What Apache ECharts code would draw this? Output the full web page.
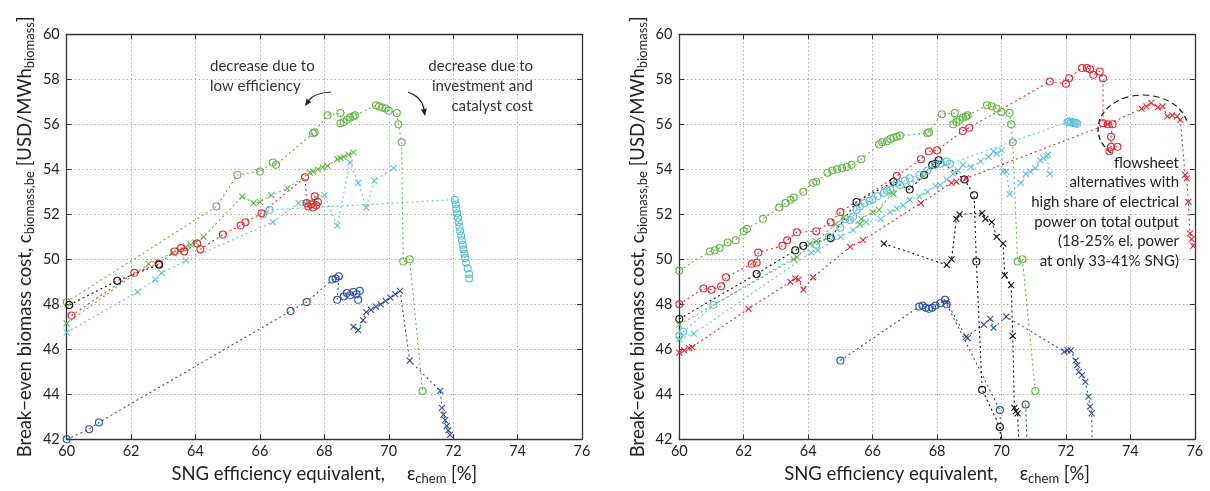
<!DOCTYPE html>
<html>
<head>
<meta charset="utf-8">
<script src="https://cdn.jsdelivr.net/npm/echarts@6/dist/echarts.min.js"></script>
<style>
  * { margin: 0; padding: 0; }
  body { background: #fff; }
  #main { width: 1210px; height: 491px; }
</style>
</head>
<body>
<div id="main"></div>
<script>
// axis ranges / ticks
var xMin = 60, xMax = 76, xStep = 2;
var yMin = 42, yMax = 60, yStep = 2;

// ---- left panel ----
var leftBlackO = [[60.08,47.97],[61.57,49.05],[62.87,49.76]];
var leftRedO = [[60.15,47.5],[62.1,49.4],[62.85,49.8],[63.35,50.35],[63.55,50.5],[63.65,50.35],[64.05,50.7],[64.15,50.45],[64.85,51.1],[65.4,51.5],[65.55,51.65],[66.05,52.05],[67.4,53.65],[67.45,52.5],[67.5,52.35],[67.6,52.45],[67.7,52.8],[67.75,52.4],[67.8,52.55],[67.65,52.3]];
var leftGreenO = [[60.0,48.1],[64.65,52.35],[65.3,53.75],[66.0,53.9],[66.4,54.3],[66.5,54.2],[67.65,55.6],[67.7,55.65],[68.1,56.4],[68.5,56.5],[68.5,56.05],[68.6,56.1],[68.7,56.2],[68.8,56.3],[68.9,56.35],[68.95,56.4],[69.6,56.85],[69.7,56.8],[69.8,56.75],[69.9,56.7],[70.0,56.6],[70.25,56.5],[70.3,56.0],[70.4,55.2],[70.45,49.9],[70.65,50.0],[71.05,44.15]];
var leftGreenX = [[60.0,47.15],[62.55,49.8],[63.3,50.3],[63.5,50.4],[63.7,50.55],[63.85,50.65],[64.0,50.75],[64.25,51.0],[65.45,52.8],[65.8,52.5],[66.0,52.55],[66.35,52.85],[66.85,53.15],[67.55,53.85],[67.65,53.9],[67.8,54.0],[67.95,54.1],[68.1,54.15],[68.4,54.45],[68.5,54.5],[68.6,54.55],[68.75,54.65],[68.9,54.75]];
var leftCyanX = [[60.0,46.75],[62.2,48.55],[62.75,49.1],[62.95,49.4],[63.7,49.95],[66.4,51.65],[67.2,52.5],[67.4,52.5],[67.75,52.75],[68.0,52.85],[68.4,51.5],[68.8,54.3],[69.05,53.4],[69.3,52.3],[69.55,53.5],[70.15,54.05]];
var leftCyanO = [[66.1,52.0],[66.3,52.2],[72.05,52.65],[72.08,52.45],[72.1,52.25],[72.12,52.05],[72.15,51.85],[72.17,51.65],[72.2,51.45],[72.22,51.25],[72.25,51.05],[72.27,50.85],[72.3,50.65],[72.32,50.45],[72.35,50.25],[72.37,50.05],[72.4,49.85],[72.45,49.6],[72.5,49.35],[72.5,49.15]];
var leftBlueO = [[60.0,42.0],[60.7,42.45],[61.0,42.75],[66.95,47.7],[67.45,48.1],[68.25,49.1],[68.35,49.15],[68.45,49.25],[68.4,48.2],[68.6,48.35],[68.7,48.5],[68.8,48.4],[68.9,48.55],[69.0,48.45],[69.1,48.6],[69.05,48.2]];
var leftBlueX = [[68.9,47.0],[69.05,46.85],[69.2,47.3],[69.3,47.65],[69.45,47.75],[69.6,47.9],[69.75,48.0],[69.9,48.15],[70.05,48.3],[70.2,48.45],[70.35,48.6],[70.65,45.5],[71.6,44.15],[71.65,43.4],[71.7,43.1],[71.75,42.85],[71.8,42.6],[71.85,42.4],[71.9,42.2]];

// ---- right panel ----
var rightGreenO = [[60.0,49.5],[60.95,50.35],[61.1,50.4],[61.25,50.5],[61.5,50.75],[61.75,50.85],[62.0,51.25],[62.1,51.35],[62.6,51.8],[63.1,52.3],[63.3,52.5],[63.45,52.65],[63.55,52.75],[63.85,53.0],[64.15,53.4],[64.25,53.45],[64.6,53.85],[64.75,53.95],[64.9,54.0],[65.05,54.05],[65.2,54.1],[65.35,54.2],[65.65,54.45],[66.2,55.1],[66.3,55.2],[66.45,55.25],[66.55,55.35],[66.65,55.4],[66.75,55.45],[66.85,55.5],[67.7,55.6],[67.75,55.65],[68.15,56.45],[68.55,56.5],[68.5,56.0],[68.6,56.1],[68.7,56.2],[68.8,56.3],[68.9,56.35],[68.95,56.4],[69.55,56.85],[69.7,56.8],[69.85,56.7],[70.0,56.55],[70.25,56.5],[70.3,56.0],[70.35,55.2],[70.5,49.9],[70.65,50.0],[71.05,44.15]];
var rightRedO = [[60.0,48.0],[60.75,48.7],[61.0,48.65],[61.3,48.8],[61.45,49.2],[62.25,49.8],[62.4,49.85],[62.45,50.3],[63.2,50.6],[63.35,50.85],[63.65,51.2],[64.25,51.25],[64.7,51.65],[65.0,52.1],[66.75,53.7],[67.5,54.45],[67.75,54.8],[68.0,54.85],[68.8,55.7],[69.0,55.85],[71.5,57.9],[72.0,57.8],[72.1,58.05],[72.5,58.5],[72.65,58.5],[72.75,58.45],[72.85,58.2],[73.05,58.35],[73.15,58.05],[73.15,56.05],[73.3,56.0],[73.45,56.0],[73.4,55.45],[73.4,55.0],[73.6,55.0],[73.35,54.8]];
var rightRedX = [[60.0,45.85],[60.15,45.95],[60.3,46.05],[60.4,46.1],[62.15,47.8],[63.45,49.0],[63.6,49.15],[63.7,49.1],[63.85,48.65],[64.15,49.2],[65.3,50.55],[65.7,50.85],[67.5,52.5],[68.45,53.4],[68.6,53.45],[68.9,53.6],[73.3,56.0],[74.35,56.7],[74.5,56.8],[74.65,56.95],[74.85,56.75],[75.0,56.8],[75.15,56.35],[75.3,56.4],[75.45,56.35],[75.55,56.2],[75.7,53.75],[75.75,53.6],[75.8,52.55],[75.85,51.15],[75.9,50.9],[75.95,50.6]];
var rightBlackO = [[60.0,47.35],[62.4,49.35],[63.6,50.4],[63.85,50.6],[64.7,50.95],[65.5,52.55],[66.65,53.45],[67.15,53.1],[67.6,53.75],[67.85,54.2],[67.95,54.25],[68.05,54.4],[68.85,53.55],[69.15,52.85],[69.22,49.9],[69.4,44.2],[69.95,42.55],[70.0,41.5]];
var rightBlackX = [[66.35,50.7],[68.3,49.75],[68.45,50.0],[68.6,51.8],[68.7,52.0],[69.4,52.05],[69.5,51.8],[69.7,51.65],[69.85,51.0],[70.05,50.7],[70.1,49.3],[70.3,48.85],[70.35,46.6],[70.4,43.4],[70.45,43.25],[70.5,43.15],[70.55,41.5]];
var rightCyanO = [[60.0,46.6],[60.12,46.78],[61.06,47.97],[64.25,50.65],[64.65,51.0],[65.0,51.4],[65.15,51.8],[65.3,51.75],[65.4,51.9],[65.5,52.2],[65.6,52.35],[65.75,52.5],[65.9,52.6],[66.0,52.65],[66.15,52.8],[66.35,52.95],[66.45,53.05],[66.55,53.1],[66.75,53.4],[66.85,53.3],[67.0,53.5],[67.15,53.6],[67.45,53.75],[67.7,53.95],[67.95,54.2],[68.1,54.25],[68.3,54.35],[68.4,54.25],[72.05,56.1],[72.1,56.12],[72.15,56.08],[72.2,56.1],[72.25,56.05],[72.3,56.07],[72.35,56.02]];
var rightCyanX = [[60.0,46.45],[60.45,46.7],[64.1,50.3],[64.3,50.4],[65.0,51.0],[65.4,51.3],[65.8,51.65],[66.25,51.8],[66.55,52.1],[66.75,52.25],[66.95,52.4],[67.15,52.65],[67.45,52.8],[67.7,53.0],[67.95,53.25],[68.1,53.3],[68.3,53.55],[68.5,53.8],[68.65,53.95],[68.8,54.2],[69.05,54.1],[69.35,54.35],[69.6,54.55],[69.75,54.8],[69.85,54.7],[70.0,54.85],[70.05,53.9],[70.15,53.9],[70.25,52.9],[70.6,53.4],[70.75,53.8],[70.9,53.9],[71.05,54.05],[71.2,54.4],[71.3,54.5],[71.4,54.6],[71.45,54.65],[71.5,53.8]];
var rightGreenX = [[60.0,47.1],[63.55,50.0],[63.65,50.1],[64.05,50.7],[64.25,50.8],[64.85,51.55],[65.1,51.85],[65.6,51.55],[65.65,51.8],[66.0,52.1],[66.2,52.2],[66.6,52.95],[66.65,52.9],[67.6,53.7]];
var rightBlueO = [[65.0,45.5],[67.45,47.9],[67.55,47.95],[67.65,47.85],[67.75,47.8],[67.85,47.85],[67.95,47.95],[68.1,48.05],[68.25,48.2],[68.3,48.0],[69.95,43.3],[70.0,41.5]];
var rightBlueO2 = [[70.75,43.55],[70.8,41.5]];
var rightBlueX = [[68.3,48.1],[68.9,46.55],[68.95,46.5],[69.45,47.1],[69.65,47.35],[69.75,46.95],[70.15,47.45],[71.95,45.9],[72.05,45.95],[72.15,45.95],[72.3,45.5],[72.35,45.3],[72.4,45.0],[72.5,44.85],[72.6,44.55],[72.7,43.9],[72.75,43.45],[72.8,43.15],[72.82,41.5]];

var RED = '#e8262b', GREEN = '#62b843', CYAN = '#5cc3da', BLUE = '#2d4fa3', BLACK = '#111';
var CROSS = 'path://M0,0L10,10M10,0L0,10';

function mk(data, color, mark, panel) {
    return {
        type: 'line',
        data: data,
        xAxisIndex: panel * 2,
        yAxisIndex: panel * 2,
        symbol: mark === 'o' ? 'circle' : CROSS,
        symbolSize: mark === 'o' ? 7 : 6,
        animation: false,
        lineStyle: { color: color, width: 1.1, type: [2, 3] },
        itemStyle: { color: 'rgba(0,0,0,0)', borderColor: color, borderWidth: 1.1 }
    };
}

var seriesList = [
    mk(leftBlueO, BLUE, 'o', 0), mk(leftBlueX, BLUE, 'x', 0),
    mk(leftCyanX, CYAN, 'x', 0), mk(leftCyanO, CYAN, 'o', 0),
    mk(leftGreenX, GREEN, 'x', 0), mk(leftGreenO, GREEN, 'o', 0),
    mk(leftRedO, RED, 'o', 0), mk(leftBlackO, BLACK, 'o', 0),
    mk(rightBlueO, BLUE, 'o', 1), mk(rightBlueO2, BLUE, 'o', 1), mk(rightBlueX, BLUE, 'x', 1),
    mk(rightBlackX, BLACK, 'x', 1), mk(rightBlackO, BLACK, 'o', 1),
    mk(rightCyanX, CYAN, 'x', 1), mk(rightCyanO, CYAN, 'o', 1),
    mk(rightGreenX, GREEN, 'x', 1), mk(rightGreenO, GREEN, 'o', 1),
    mk(rightRedX, RED, 'x', 1), mk(rightRedO, RED, 'o', 1)
];

var FONT = 'Lato';
var subRich = {
    m: { fontSize: 18.5, lineHeight: 23, color: '#222', fontFamily: FONT },
    s: { fontSize: 13, lineHeight: 13, color: '#222', fontFamily: FONT, verticalAlign: 'bottom' },
    e: { fontSize: 18.5, lineHeight: 23, color: '#222', fontFamily: FONT, padding: [0, 0, 0, 22] }
};
var yName = '{m|Break\u2212even biomass cost, c}{s|biomass,be}{m| [USD/MWh}{s|biomass}{m|]}';
var xName = '{m|SNG efficiency equivalent,}{e|\u03b5}{s|chem}{m| [%]}';

function xAxes(grid) {
    return [{
        type: 'value', gridIndex: grid, min: xMin, max: xMax, interval: xStep, position: 'bottom',
        name: xName, nameLocation: 'middle', nameGap: 19,
        nameTextStyle: { rich: subRich },
        axisLine: { lineStyle: { color: '#333', width: 1.3 } },
        axisTick: { inside: true, length: 5, lineStyle: { color: '#333' } },
        axisLabel: { fontSize: 14.5, color: '#222', fontFamily: FONT, margin: 5 },
        splitLine: { show: true, lineStyle: { color: '#8a8a8a', type: [1, 3], width: 1 } }
    }, {
        type: 'value', gridIndex: grid, min: xMin, max: xMax, interval: xStep, position: 'top',
        axisLine: { lineStyle: { color: '#333', width: 1.3 } },
        axisTick: { inside: true, length: 5, lineStyle: { color: '#333' } },
        axisLabel: { show: false }, splitLine: { show: false }
    }];
}
function yAxes(grid) {
    return [{
        type: 'value', gridIndex: grid, min: yMin, max: yMax, interval: yStep, position: 'left',
        name: yName, nameLocation: 'middle', nameGap: 30, nameRotate: 90,
        nameTextStyle: { rich: subRich },
        axisLine: { lineStyle: { color: '#333', width: 1.3 } },
        axisTick: { inside: true, length: 5, lineStyle: { color: '#333' } },
        axisLabel: { fontSize: 14.5, color: '#222', fontFamily: FONT, margin: 7 },
        splitLine: { show: true, lineStyle: { color: '#8a8a8a', type: [1, 3], width: 1 } }
    }, {
        type: 'value', gridIndex: grid, min: yMin, max: yMax, interval: yStep, position: 'right',
        axisLine: { lineStyle: { color: '#333', width: 1.3 } },
        axisTick: { inside: true, length: 5, lineStyle: { color: '#333' } },
        axisLabel: { show: false }, splitLine: { show: false }
    }];
}

// curved annotation arrow (pixel coords)
function arrow(x1, y1, cx, cy, tx, ty) {
    var dx = tx - cx, dy = ty - cy, len = Math.sqrt(dx * dx + dy * dy);
    var ux = dx / len, uy = dy / len, hl = 7, hw = 3;
    var bx = tx - ux * hl, by = ty - uy * hl;
    return [{
        type: 'bezierCurve', silent: true,
        shape: { x1: x1, y1: y1, cpx1: cx, cpy1: cy, x2: bx, y2: by },
        style: { stroke: '#222', lineWidth: 1.2, fill: null }
    }, {
        type: 'polygon', silent: true,
        shape: { points: [[tx, ty], [bx - uy * hw, by + ux * hw], [bx + uy * hw, by - ux * hw]] },
        style: { fill: '#222' }
    }];
}

var graphics = [].concat(
    [{
        type: 'text', left: 210, top: 56,
        style: { text: 'decrease due to\nlow efficiency', font: '15px Lato', fill: '#333', lineHeight: 20 }
    }, {
        type: 'text', x: 533, y: 56,
        style: { text: 'decrease due to\ninvestment and\ncatalyst cost', font: '15px Lato', fill: '#333', lineHeight: 20, align: 'right' }
    }, {
        type: 'text', x: 1179, y: 153,
        style: { text: 'flowsheet\nalternatives with\nhigh share of electrical\npower on total output\n(18-25% el. power\nat only 33-41% SNG)', font: '15px Lato', fill: '#222', lineHeight: 19.7, align: 'right' }
    }, {
        type: 'arc', silent: true, x: 1143, y: 129, scaleX: 45 / 34,
        shape: { cx: 0, cy: 0, r: 34, startAngle: 2.35, endAngle: 6.1, clockwise: true },
        style: { stroke: '#111', lineWidth: 1, lineDash: [5, 3], fill: null }
    }],
    arrow(331, 92, 314, 93, 305, 106),
    arrow(408, 92, 422, 97, 425, 116)
);

var myChart = echarts.init(document.getElementById('main'), null, { renderer: 'canvas' });
myChart.setOption({
    backgroundColor: '#fff',
    animation: false,
    grid: [
        { left: 66.7, top: 34.3, width: 515.3, height: 405 },
        { left: 679.3, top: 34.3, width: 515.5, height: 405 }
    ],
    xAxis: xAxes(0).concat(xAxes(1)),
    yAxis: yAxes(0).concat(yAxes(1)),
    series: seriesList,
    graphic: graphics
});
</script>
</body>
</html>
